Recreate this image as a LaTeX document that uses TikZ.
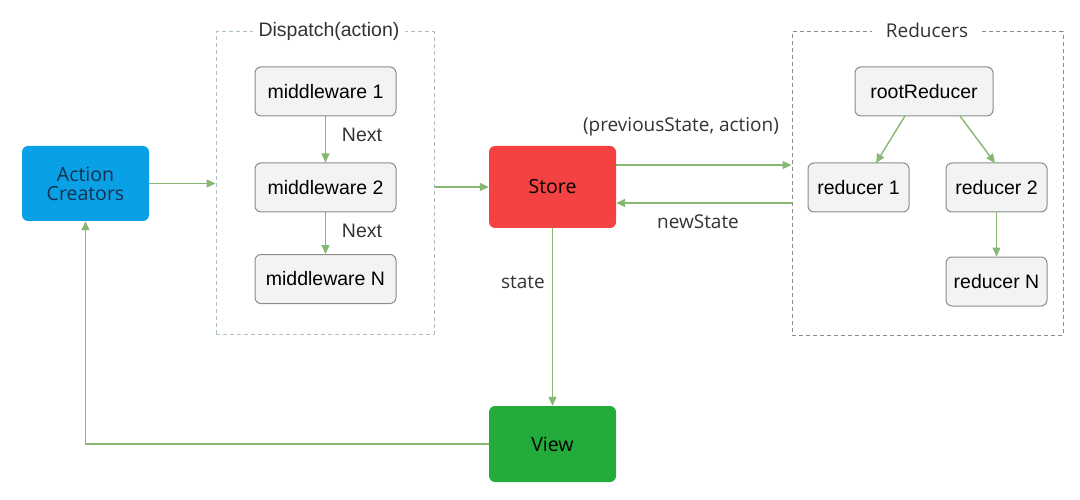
\documentclass[tikz,border=0pt]{standalone}
\usepackage{fontspec}
\setmainfont{Liberation Sans}
\newfontfamily\myr{Open Sans}
\usetikzlibrary{arrows.meta}
\definecolor{acblue}{HTML}{0AA0E6}
\definecolor{storered}{HTML}{F44141}
\definecolor{viewgreen}{HTML}{23AB3B}
\definecolor{arrowgreen}{HTML}{86B872}
\definecolor{boxgray}{HTML}{F3F3F3}
\definecolor{boxline}{HTML}{8C8C8C}
\definecolor{navy}{HTML}{14304F}
\definecolor{dashblue}{HTML}{A9BFCB}
\definecolor{dashgray}{HTML}{8A8A8A}
\definecolor{txtgray}{HTML}{333333}
\tikzset{
  colbox/.style={rounded corners=6pt, minimum width=127pt, text=navy, font=\myr\fontsize{19.5}{21}\selectfont, align=center, inner sep=0pt},
  graybox/.style={rounded corners=6pt, draw=boxline, fill=boxgray, line width=1pt, minimum height=49pt, text=black, font=\fontsize{19.5}{22}\selectfont, inner sep=0pt},
  frame/.style={dashed, dash pattern=on 4pt off 3pt, line width=1pt, minimum width=#1, inner sep=0pt},
  conn/.style={draw=arrowgreen, line width=1.4pt, -{Triangle[width=8pt,length=9pt]}},
  lbl/.style={font=\myr\fontsize{19}{22}\selectfont, text=txtgray, inner sep=0pt},
  lbl2/.style={font=\fontsize{19.5}{22}\selectfont, text=txtgray, inner sep=0pt},
  ttl/.style={fill=white, inner sep=4pt}
}
\begin{document}
\begin{tikzpicture}[x=1pt,y=-1pt]
\useasboundingbox[fill=white] (0,0) rectangle (1080,500);
% frames
\node[frame=218pt, draw=dashblue, minimum height=302pt] (disp) at (325,183) {};
\node[frame=271pt, draw=dashgray, minimum height=303pt] (red) at (927.5,183.5) {};
\node[ttl, lbl2, inner xsep=6pt] (dispt) at (329,31) {Dispatch(action)};
\node[ttl, lbl, inner xsep=14pt] (redt) at (927,30) {Reducers};
% colored boxes
\node[colbox, fill=acblue, minimum height=75pt] (ac) at (85.5,183.5) {Action\\[-2pt]Creators};
\node[colbox, fill=storered, minimum height=82pt, text=black] (store) at (552.5,187) {Store};
\node[colbox, fill=viewgreen, minimum height=76pt, text=black] (view) at (552.5,444) {View};
% middleware
\node[graybox, minimum width=141pt] (mw1) at (325.5,91.5) {middleware 1};
\node[graybox, minimum width=141pt] (mw2) at (325.5,187.5) {middleware 2};
\node[graybox, minimum width=141pt] (mwN) at (325.5,279) {middleware N};
% reducers
\node[graybox, minimum width=138pt] (root) at (924,91.5) {rootReducer};
\node[graybox, minimum width=101pt] (r1) at (858.5,187.5) {reducer 1};
\node[graybox, minimum width=101pt] (r2) at (996.5,187.5) {reducer 2};
\node[graybox, minimum width=101pt] (rN) at (996.5,281.5) {reducer N};
% helper coordinates
\coordinate (pa) at (store.east |- 0,165);
\coordinate (pb) at (red.west |- 0,165);
\coordinate (na) at (red.west |- 0,203);
\coordinate (nb) at (store.east |- 0,203);
\coordinate (rta) at (905,116);
\coordinate (r1a) at (876,163);
\coordinate (rtb) at (960,116);
\coordinate (r2a) at (995,163);
\coordinate (corner) at (ac.south |- view.west);
% connectors
\draw[conn] (ac.east) -- (ac.east -| disp.west);
\draw[conn] (disp.east |- store.west) -- (store.west);
\draw[conn] (mw1) -- (mw2);
\draw[conn] (mw2) -- (mwN);
\draw[conn] (pa) -- (pb);
\draw[conn] (na) -- (nb);
\draw[conn] (rta) -- (r1a);
\draw[conn] (rtb) -- (r2a);
\draw[conn] (r2) -- (rN);
\draw[conn] (store) -- (view);
\draw[conn] (view.west) -- (corner) -- (ac.south);
% labels
\node[lbl2] (n1) at (362,135) {Next};
\node[lbl2] (n2) at (362,231) {Next};
\node[lbl] (ps) at (681,127) {(previousState, action)};
\node[lbl] (ns) at (698,222) {newState};
\node[lbl] (st) at (523,282) {state};
\end{tikzpicture}
\end{document}
